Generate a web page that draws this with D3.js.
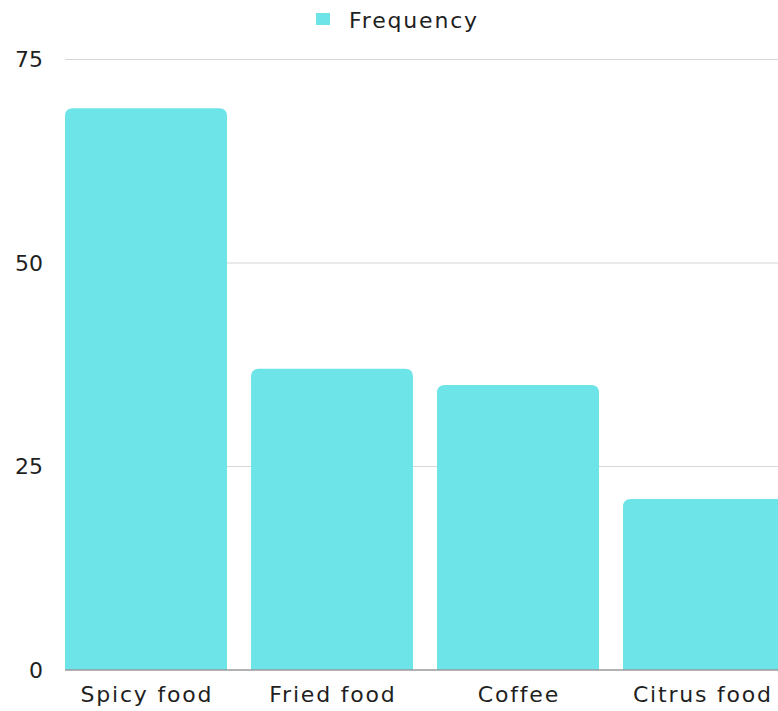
<!DOCTYPE html>
<html>
<head>
<meta charset="utf-8">
<script src="https://cdn.jsdelivr.net/npm/d3@7"></script>
<style>
  html, body { margin: 0; padding: 0; background: #fff; }
  svg { display: block; font-family: "DejaVu Sans", "Open Sans", sans-serif; }
</style>
</head>
<body>
<svg id="chart" width="778" height="711"></svg>
<script>
// Data
const categories = ["Spicy food", "Fried food", "Coffee", "Citrus food"];
const frequency = [69, 37, 35, 21];
const yTicks = [0, 25, 50, 75];
const seriesName = "Frequency";

const W = 778, H = 711;
const barColor = "#6ce4e8";
const textColor = "#1f1f1f";
const labelSpacing = 1.8;
const svg = d3.select("#chart");

const x = d3.scaleBand()
  .domain(categories)
  .range([65, 785])
  .paddingInner(0.129)
  .paddingOuter(0);

const y = d3.scaleLinear().domain([0, 75]).range([670, 59.5]);

// Gridlines
svg.append("g")
  .selectAll("line")
  .data(yTicks.filter(d => d !== 0))
  .join("line")
  .attr("x1", 65).attr("x2", W)
  .attr("y1", d => y(d)).attr("y2", d => y(d))
  .attr("stroke", "#d6d6d6").attr("stroke-width", 1.2);

// Y tick labels
svg.append("g")
  .selectAll("text")
  .data(yTicks)
  .join("text")
  .attr("x", 43)
  .attr("y", d => y(d))
  .attr("dy", "0.36em")
  .attr("text-anchor", "end")
  .attr("font-size", 22)
  .attr("fill", textColor)
  .text(d => d);

// Bars with rounded top corners
const r = 8;
function barPath(d, i) {
  const x0 = x(categories[i]), w = x.bandwidth();
  const top = y(d), base = y(0);
  return `M${x0},${base} L${x0},${top + r} Q${x0},${top} ${x0 + r},${top}` +
         ` L${x0 + w - r},${top} Q${x0 + w},${top} ${x0 + w},${top + r}` +
         ` L${x0 + w},${base} Z`;
}
svg.append("g")
  .selectAll("path")
  .data(frequency)
  .join("path")
  .attr("d", barPath)
  .attr("fill", barColor);

// Baseline
svg.append("line")
  .attr("x1", 65).attr("x2", W)
  .attr("y1", y(0)).attr("y2", y(0))
  .attr("stroke", "#9a9a9a").attr("stroke-width", 1.5);

// X category labels (the last one is kept inside the right edge)
svg.append("g")
  .selectAll("text")
  .data(categories)
  .join("text")
  .attr("x", d => Math.min(x(d) + x.bandwidth() / 2, 702) + labelSpacing / 2)
  .attr("y", 702)
  .attr("text-anchor", "middle")
  .attr("font-size", 22)
  .attr("letter-spacing", labelSpacing)
  .attr("fill", textColor)
  .text(d => d);

// Legend
const legend = svg.append("g");
legend.append("rect")
  .attr("x", 316).attr("y", 13)
  .attr("width", 14).attr("height", 12)
  .attr("fill", barColor);
legend.append("text")
  .attr("x", 349).attr("y", 28)
  .attr("font-size", 22)
  .attr("letter-spacing", labelSpacing)
  .attr("fill", textColor)
  .text(seriesName);
</script>
</body>
</html>
